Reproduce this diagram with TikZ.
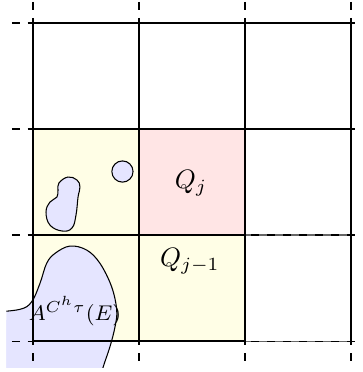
\documentclass[tikz,border=0pt]{standalone}
\begin{document}
\begin{tikzpicture}[scale=1.4,every node/.style={font=\normalsize},blob/.style={draw,thin,fill=blue!10},gridext/.style={dashed,thin}]
\useasboundingbox (-0.311,-0.292) rectangle (3.113,3.217);
\fill[yellow!10] (0,0) rectangle (2,2);
\fill[red!10] (1,1) rectangle (2,2);
\draw[blob] (0.844,1.599) circle (0.1);
\draw[blob] plot[smooth cycle,tension=0.7] coordinates {(0.330,1.547) (0.415,1.519) (0.443,1.453) (0.425,1.358) (0.406,1.189) (0.368,1.066) (0.274,1.038) (0.160,1.094) (0.123,1.217) (0.160,1.311) (0.226,1.358) (0.236,1.425) (0.245,1.491)};
\begin{scope}
\clip (-0.25,-0.25) rectangle (3.25,3.25);
\fill[blue!10] (-0.4,0.27) -- (-0.4,-0.4) -- (0.62,-0.4) -- (0.663,-0.242) -- cycle;
\draw[blob] plot[smooth,tension=0.6] coordinates {(-0.4,0.27) (-0.123,0.299) (-0.012,0.371) (0.066,0.544) (0.129,0.733) (0.208,0.827) (0.349,0.896) (0.507,0.858) (0.632,0.733) (0.742,0.512) (0.790,0.292) (0.774,0.135) (0.726,-0.054) (0.663,-0.242) (0.62,-0.4)} -- (-0.4,-0.4) -- cycle;
\end{scope}
\draw[semithick] (0,3) -- (3,3);
\draw[semithick] (0,2) -- (3,2);
\draw[semithick] (0,1) -- (2,1);
\draw[semithick] (0,0) -- (2,0);
\draw[black!60] (2,1) -- (3,1);
\draw[black!60] (2,0) -- (3,0);
\draw[semithick] (0,0) -- (0,3);
\draw[semithick] (1,0) -- (1,3);
\draw[semithick] (2,0) -- (2,3);
\draw[semithick] (3,0) -- (3,3);
\draw[gridext] (-0.2,3) -- (3.2,3);
\draw[gridext] (-0.2,2) -- (3.2,2);
\draw[gridext] (-0.2,1) -- (3.2,1);
\draw[gridext] (-0.2,0) -- (3.2,0);
\draw[gridext] (0,3.2) -- (0,-0.2);
\draw[gridext] (1,3.2) -- (1,-0.2);
\draw[gridext] (2,3.2) -- (2,-0.2);
\draw[gridext] (3,3.2) -- (3,-0.2);
\node (qj) at (1.49,1.49) {$Q_j$};
\node (qjm) at (1.48,0.755) {$Q_{j-1}$};
\node[inner sep=0pt,font=\footnotesize] (ae) at (0.396,0.283) {$A^{C^h\tau}(E)$};
\end{tikzpicture}
\end{document}
